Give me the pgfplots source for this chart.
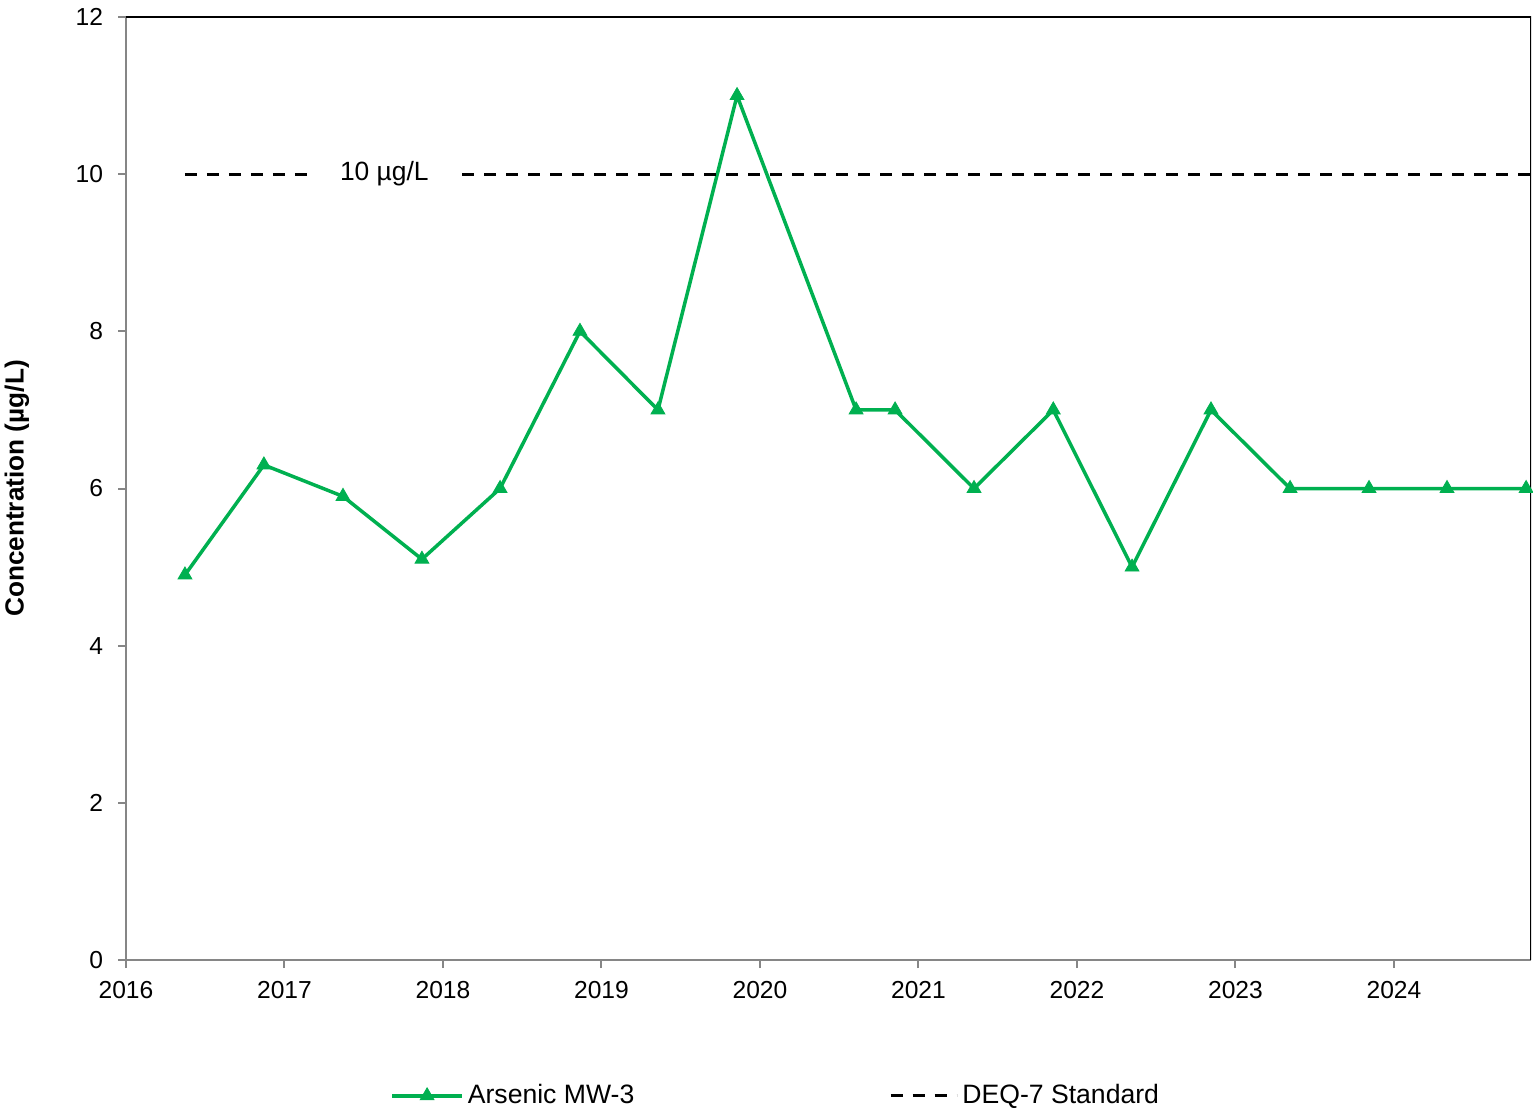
\documentclass[border=0pt]{standalone}
\usepackage{fontspec}
\setmainfont{Liberation Sans}
\usepackage{pgfplots}
\pgfplotsset{compat=1.18}
\definecolor{asgreen}{RGB}{0,176,80}
\definecolor{axgray}{RGB}{134,134,134}
\begin{document}
\begin{tikzpicture}[font=\fontsize{12.3}{14}\selectfont]
  \begin{axis}[
      scale only axis,
      width=702.5pt, height=471.5pt,
      xmin=2016, xmax=2024.864,
      ymin=0, ymax=12,
      xtick={2016,...,2024},
      ytick={0,2,...,12},
      axis x line*=bottom,
      axis y line*=left,
      axis line style={-, draw=axgray, line width=1pt},
      tick style={draw=axgray, line width=1pt},
      tick align=outside,
      major tick length=4pt,
      /pgf/number format/assume math mode=true,
      /pgf/number format/1000 sep={},
      xticklabel style={yshift=-3pt},
      yticklabel style={xshift=-4pt},
      ylabel={\fontsize{13.1}{15}\selectfont\bfseries Concentration (µg/L)},
      ylabel style={at={(axis description cs:-0.0776,0.5)}, anchor=center},
      unbounded coords=jump,
      legend columns=2,
      legend style={draw=none, fill=none, at={(axis description cs:0.1836,-0.144)}, anchor=west,
        /tikz/every even column/.append style={column sep=125.5pt},
        font=\fontsize{13.3}{15}\selectfont},
      legend cell align=left,
    ]
    % Arsenic MW-3
    \addplot[color=asgreen, line width=1.75pt, mark=triangle*, mark size=4pt,
      mark options={line width=0.4pt},
      legend image code/.code={\draw[mark repeat=2,mark phase=2] plot coordinates {(0pt,0pt) (17.5pt,0pt) (35pt,0pt)};}]
      coordinates {
      (2016.372, 4.9)
      (2016.870, 6.3)
      (2017.369, 5.9)
      (2017.867, 5.1)
      (2018.360, 6.0)
      (2018.864, 8.0)
      (2019.356, 7.0)
      (2019.855, 11.0)
      (2020.606, 7.0)
      (2020.852, 7.0)
      (2021.350, 6.0)
      (2021.850, 7.0)
      (2022.347, 5.0)
      (2022.845, 7.0)
      (2023.344, 6.0)
      (2023.842, 6.0)
      (2024.334, 6.0)
      (2024.833, 6.0)
    };
    \addlegendentry{Arsenic MW-3}
    % DEQ-7 Standard
    \addplot[black, line width=1.5pt, dash pattern=on 6pt off 5pt, no marks,
      legend image code/.code={\draw (0pt,0pt) -- (28pt,0pt); \path (0pt,0pt) -- (33pt,0pt);}]
      coordinates {
      (2016.372, 10)
      (2017.160, 10)
      (2017.600, nan)
      (2018.120, 10)
      (2024.864, 10)
    };
    \addlegendentry{DEQ-7 Standard}
    \node[font=\fontsize{13.2}{15}\selectfont] at (axis cs:2017.63,10) {10 µg/L};
    \draw[black, line width=1pt] (rel axis cs:0,1) -- (rel axis cs:1,1) -- (rel axis cs:1,0);
  \end{axis}
  \pgfresetboundingbox
  \path ([xshift=-63pt,yshift=-77.5pt]current axis.south west) rectangle ([xshift=1pt,yshift=8.5pt]current axis.north east);
\end{tikzpicture}
\end{document}
